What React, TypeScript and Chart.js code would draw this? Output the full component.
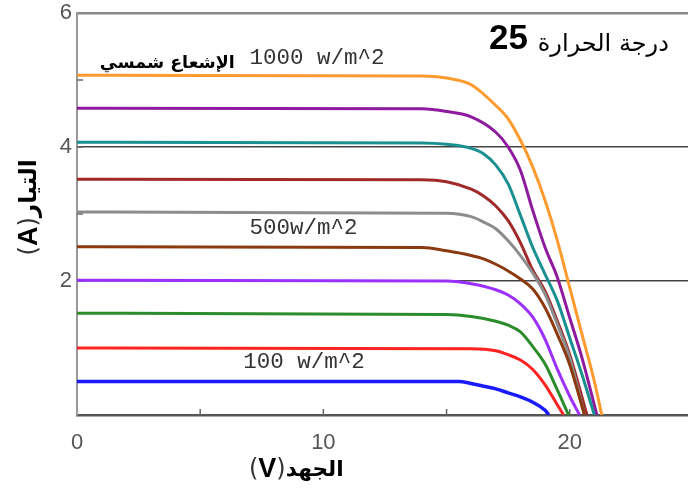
import React, { useEffect, useRef } from 'react';
import { Chart, registerables } from 'chart.js';

Chart.register(...registerables);

// Tick labels shown on the axes
const xTickLabels = [0, 10, 20];
const yTickLabels = [2, 4, 6];

// Texts
const irradianceWord = 'الإشعاع شمسي';
const label1000 = '1000 w/m^2';
const label500 = '500w/m^2';
const label100 = '100 w/m^2';
const tempWord = 'درجة الحرارة';
const tempValue = '25';
const xTitleArabic = 'الجهد';
const xTitleUnit = 'V';
const yTitleArabic = 'التيار';
const yTitleUnit = 'A';

// I-V curves (voltage V, current A), one pair of arrays per irradiance level
const irr1000V = [0, 14, 15, 16, 17, 17.5, 18, 18.5, 19, 19.5, 20, 20.5, 21, 21.3];
const irr1000I = [5.07, 5.06, 5.03, 4.93, 4.62, 4.42, 4.1, 3.7, 3.2, 2.6, 1.9, 1.2, 0.5, 0];

const irr900V = [0, 14, 15, 16, 17, 17.5, 18, 18.5, 19, 19.5, 20, 20.5, 21.1];
const irr900I = [4.58, 4.57, 4.53, 4.45, 4.22, 4.0, 3.65, 3.05, 2.5, 2.05, 1.45, 0.85, 0];

const irr800V = [0, 14, 15, 16, 16.5, 17, 17.5, 18, 18.5, 19, 19.5, 20, 20.5, 21.0];
const irr800I = [4.07, 4.06, 4.04, 3.98, 3.9, 3.73, 3.45, 2.98, 2.5, 2.1, 1.7, 1.15, 0.6, 0];

const irr700V = [0, 14, 15, 16, 16.5, 17, 17.5, 18, 18.5, 19, 19.5, 20, 20.7];
const irr700I = [3.52, 3.51, 3.48, 3.37, 3.27, 3.12, 2.9, 2.57, 2.16, 1.85, 1.4, 0.9, 0];

const irr600V = [0, 15, 16, 16.5, 17, 17.5, 18, 18.5, 19, 19.5, 20, 20.6];
const irr600I = [3.03, 3.01, 2.96, 2.88, 2.78, 2.6, 2.38, 2.12, 1.8, 1.35, 0.85, 0];

const irr500V = [0, 14, 15, 16, 16.5, 17, 17.5, 18, 18.5, 19, 19.5, 20, 20.6];
const irr500I = [2.51, 2.5, 2.45, 2.38, 2.33, 2.25, 2.15, 2.03, 1.88, 1.6, 1.2, 0.75, 0];

const irr400V = [0, 15, 16, 17, 17.5, 18, 18.5, 19, 19.5, 20, 20.4];
const irr400I = [2.01, 2.0, 1.96, 1.87, 1.79, 1.66, 1.46, 1.13, 0.68, 0.28, 0];

const irr300V = [0, 15, 16, 17, 17.5, 18, 18.5, 19, 19.5, 19.95];
const irr300I = [1.52, 1.5, 1.47, 1.4, 1.34, 1.24, 1.02, 0.76, 0.37, 0];

const irr200V = [0, 16, 17, 17.5, 18, 18.5, 19, 19.5, 19.75];
const irr200I = [1.0, 0.99, 0.96, 0.9, 0.82, 0.68, 0.45, 0.15, 0];

const irr100V = [0, 15.5, 16, 16.5, 17, 17.5, 18, 18.5, 19, 19.15];
const irr100I = [0.5, 0.5, 0.47, 0.43, 0.39, 0.33, 0.27, 0.19, 0.07, 0];

const seriesNames = ['100', '200', '300', '400', '500', '600', '700', '800', '900', '1000'];
const seriesV = [irr100V, irr200V, irr300V, irr400V, irr500V, irr600V, irr700V, irr800V, irr900V, irr1000V];
const seriesI = [irr100I, irr200I, irr300I, irr400I, irr500I, irr600I, irr700I, irr800I, irr900I, irr1000I];
const seriesColors = [
  '#1a1aff', '#ff2222', '#2a8c2a', '#9b30ff', '#8b3a10',
  '#8c8c8c', '#a02a2a', '#1a9090', '#8e1a9e', '#ff9a2e',
];

function fitFont(ctx: CanvasRenderingContext2D, text: string, weight: string, family: string, targetW: number, maxSize: number) {
  let size = 20;
  ctx.font = `${weight} ${size}px ${family}`;
  const w = ctx.measureText(text).width;
  size = Math.min(maxSize, (size * targetW) / w);
  ctx.font = `${weight} ${size}px ${family}`;
  return ctx.font;
}

type Seg = { text: string; font: string; color: string };

function drawSegs(ctx: CanvasRenderingContext2D, segs: Seg[], cx: number, cy: number) {
  let total = 0;
  const widths = segs.map((s) => {
    ctx.font = s.font;
    const w = ctx.measureText(s.text).width;
    total += w;
    return w;
  });
  let x = cx - total / 2;
  ctx.textAlign = 'left';
  ctx.textBaseline = 'middle';
  segs.forEach((s, i) => {
    ctx.font = s.font;
    ctx.fillStyle = s.color;
    ctx.fillText(s.text, x, cy);
    x += widths[i];
  });
}

const decorPlugin = {
  id: 'decor',
  beforeDatasetsDraw(chart: any) {
    const { ctx, scales } = chart;
    const xs = scales.x;
    const ys = scales.y;
    ctx.save();
    ctx.strokeStyle = '#666';
    ctx.lineWidth = 1.5;
    for (let v = 5; v <= 20; v += 5) {
      const px = xs.getPixelForValue(v);
      ctx.beginPath();
      ctx.moveTo(px, ys.bottom);
      ctx.lineTo(px, ys.bottom - 6);
      ctx.stroke();
    }
    for (let v = 1; v <= 5; v += 1) {
      const py = ys.getPixelForValue(v);
      ctx.beginPath();
      ctx.moveTo(xs.left, py);
      ctx.lineTo(xs.left + 6, py);
      ctx.stroke();
    }
    ctx.restore();
  },
  afterDatasetsDraw(chart: any) {
    const { ctx, scales } = chart;
    const xs = scales.x;
    const ys = scales.y;
    ctx.save();
    ctx.textBaseline = 'middle';

    ctx.fillStyle = '#000';
    ctx.textAlign = 'right';
    fitFont(ctx, irradianceWord, 'bold', '"DejaVu Sans"', 135, 22);
    ctx.fillText(irradianceWord, xs.getPixelForValue(6.4), ys.getPixelForValue(5.25));

    ctx.textAlign = 'left';
    ctx.fillStyle = '#333';
    ctx.font = '22.5px "Liberation Mono"';
    ctx.fillText(label1000, xs.getPixelForValue(7.0), ys.getPixelForValue(5.33));
    ctx.fillText(label500, xs.getPixelForValue(7.0), ys.getPixelForValue(2.79));
    ctx.fillText(label100, xs.getPixelForValue(6.75), ys.getPixelForValue(0.79));

    ctx.fillStyle = '#000';
    ctx.textAlign = 'right';
    ctx.font = 'bold 35px "Liberation Sans"';
    ctx.fillText(tempValue, xs.getPixelForValue(18.3), ys.getPixelForValue(5.6));
    ctx.textAlign = 'left';
    fitFont(ctx, tempWord, 'normal', '"DejaVu Sans"', 138, 24);
    ctx.fillText(tempWord, xs.getPixelForValue(18.7), ys.getPixelForValue(5.52));

    const xArFont = fitFont(ctx, xTitleArabic, 'bold', '"DejaVu Sans"', 58, 24);
    drawSegs(
      ctx,
      [
        { text: '(', font: '24px "DejaVu Sans"', color: '#333' },
        { text: xTitleUnit, font: 'bold 27px "Liberation Sans"', color: '#000' },
        { text: ')', font: '24px "DejaVu Sans"', color: '#333' },
        { text: xTitleArabic, font: xArFont, color: '#000' },
      ],
      xs.getPixelForValue(8.9),
      ys.bottom + 55
    );

    const yArFont = fitFont(ctx, yTitleArabic, 'bold', '"DejaVu Sans"', 58, 24);
    ctx.translate(30, ys.getPixelForValue(3.1));
    ctx.rotate(-Math.PI / 2);
    drawSegs(
      ctx,
      [
        { text: '(', font: '24px "DejaVu Sans"', color: '#333' },
        { text: yTitleUnit, font: 'bold 27px "Liberation Sans"', color: '#000' },
        { text: ')', font: '24px "DejaVu Sans"', color: '#333' },
        { text: yTitleArabic, font: yArFont, color: '#000' },
      ],
      0,
      0
    );
    ctx.restore();
  },
};

export default function App() {
  const ref = useRef<HTMLCanvasElement | null>(null);

  useEffect(() => {
    if (!ref.current) return;
    const datasets = seriesNames.map((name, k) => ({
      label: `${name} w/m^2`,
      data: seriesV[k].map((v, i) => ({ x: v, y: seriesI[k][i] })),
      borderColor: seriesColors[k],
      backgroundColor: seriesColors[k],
      borderWidth: k === 0 ? 3.5 : 3,
      pointRadius: 0,
      fill: false,
      cubicInterpolationMode: 'monotone' as const,
    }));

    const chart = new Chart(ref.current, {
      type: 'line',
      data: { datasets },
      options: {
        animation: false,
        responsive: false,
        devicePixelRatio: 1,
        layout: { padding: { top: 0, right: 0, left: 0, bottom: 0 } },
        plugins: { legend: { display: false }, tooltip: { enabled: false } },
        scales: {
          x: {
            type: 'linear',
            min: 0,
            max: 24.8,
            border: { display: true, color: '#555', width: 2.5 },
            grid: { display: false, drawTicks: false },
            ticks: {
              stepSize: 5,
              includeBounds: false,
              padding: 15,
              color: '#555',
              font: { family: '"Liberation Sans"', size: 22 },
              autoSkip: false,
              maxRotation: 0,
              callback: (v: any) => (xTickLabels.includes(Number(v)) ? String(v) : ''),
            },
            afterFit: (s: any) => {
              s.height = 80;
            },
          },
          y: {
            type: 'linear',
            min: 0,
            max: 6,
            border: { display: true, color: '#999', width: 2 },
            grid: {
              drawTicks: false,
              color: (c: any) =>
                c.tick && c.tick.value === 6 ? '#888' : c.tick && (c.tick.value === 2 || c.tick.value === 4) ? '#444' : 'rgba(0,0,0,0)',
              lineWidth: (c: any) => (c.tick && c.tick.value === 6 ? 2.5 : 1.5),
            },
            ticks: {
              stepSize: 1,
              padding: 5,
              color: '#555',
              font: { family: '"Liberation Sans"', size: 22 },
              callback: (v: any) => (yTickLabels.includes(Number(v)) ? String(v) : ''),
            },
            afterFit: (s: any) => {
              s.width = 77;
              s.paddingTop = 13;
              s.paddingBottom = 0;
            },
          },
        },
      },
      plugins: [decorPlugin],
    });
    return () => chart.destroy();
  }, []);

  return (
    <div style={{ position: 'absolute', left: 0, top: 0, width: 688, height: 495, background: '#fff' }}>
      <canvas ref={ref} width={688} height={495} style={{ display: 'block' }} />
    </div>
  );
}
